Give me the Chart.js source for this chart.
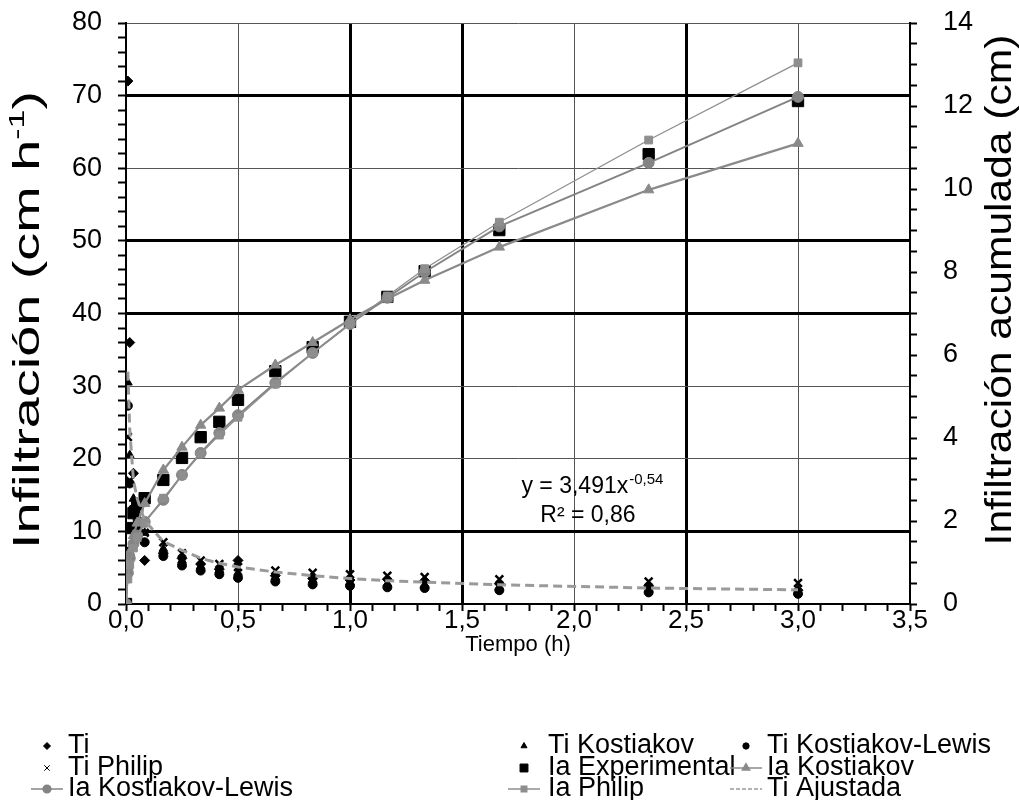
<!DOCTYPE html>
<html>
<head>
<meta charset="utf-8">
<title>Infiltración</title>
<script src="https://cdn.jsdelivr.net/npm/chart.js@4.4.1/dist/chart.umd.min.js"></script>
<style>
  html, body { margin: 0; padding: 0; background: #fff; }
  canvas { display: block; }
</style>
</head>
<body>
<canvas id="grafico" width="1019" height="800"></canvas>
<script>
// Tiempo (h) de cada lectura
const tiempo = [0, 0.0083, 0.0167, 0.0333, 0.05, 0.0833, 0.1667, 0.25, 0.3333, 0.4167, 0.5,
                0.6667, 0.8333, 1, 1.1667, 1.3333, 1.6667, 2.3333, 3];

// Infiltración instantánea (cm h-1), eje izquierdo
const tiExp        = [null, 72, 36, 18, 14, 6, 7.0, 6.3, 5.5, 4.8, 6.0, 3.9, 3.5, 3.3, 3.4, 3.2, 2.8, 2.5, 1.9];
const tiKostiakov  = [null, 30.5, 20.5, 14.5, 12, 9.8, 7.6, 6.0, 5.2, 4.7, 4.3, 3.7, 3.3, 3.0, 2.8, 2.6, 2.3, 2.0, 1.7];
const tiKostLewis  = [null, 27.3, 16.6, 12.5, 10.5, 8.5, 6.6, 5.3, 4.6, 4.1, 3.6, 3.1, 2.7, 2.5, 2.3, 2.2, 1.9, 1.6, 1.4];
const tiPhilip     = [null, 23, 17, 13, 11, 9.8, 8.5, 7.0, 6.0, 5.5, 5.1, 4.6, 4.3, 4.1, 3.9, 3.7, 3.4, 3.1, 2.9];
const tiAjustada   = [null, 32, 24, 17, 14.5, 11.5, 8.6, 7.4, 6.3, 5.6, 5.1, 4.4, 3.9, 3.5, 3.2, 3.0, 2.65, 2.2, 1.95];

// Infiltración acumulada (cm), eje derecho
const iaExp        = [0, 1.23, 1.83, 2.19, 2.34, 2.55, 2.99, 3.52, 4.02, 4.39, 4.92, 5.61, 6.19, 6.80, 7.40, 8.02, 9.01, 10.84, 12.12];
const iaKostiakov  = [0, 0.9, 1.25, 1.65, 1.95, 2.42, 3.23, 3.78, 4.31, 4.72, 5.16, 5.76, 6.3, 6.85, 7.35, 7.8, 8.6, 9.98, 11.1];
const iaKostLewis  = [0, 0.75, 1.1, 1.45, 1.65, 1.98, 2.51, 3.11, 3.64, 4.12, 4.55, 5.33, 6.05, 6.75, 7.38, 8.0, 9.1, 10.63, 12.22];
const iaPhilip     = [0, 0.6, 0.95, 1.35, 1.6, 1.95, 2.55, 3.1, 3.62, 4.07, 4.5, 5.3, 6.05, 6.75, 7.42, 8.08, 9.2, 11.18, 13.04];

// Marcas principales de los ejes
const xTicks  = [0, 0.5, 1, 1.5, 2, 2.5, 3, 3.5];
const yTicks  = [0, 10, 20, 30, 40, 50, 60, 70, 80];
const y1Ticks = [0, 2, 4, 6, 8, 10, 12, 14];

// lineas de rejilla que salen mas gruesas en la figura original
const xGruesas = [1, 1.5, 2.5];
const yGruesas = [10, 40, 50, 70];

const FUENTE = '"Liberation Sans", Arial, sans-serif';
Chart.defaults.font.family = FUENTE;
Chart.defaults.color = '#000';

function puntos(valores) {
    return tiempo.map(function(t, i) {
        return { x: t, y: valores[i] };
    }).filter(function(p) { return p.y !== null; });
}

function esMayor(v, lista) {
    return lista.some(function(m) { return Math.abs(m - v) < 1e-6; });
}

function ticksMenores(mayores, paso) {
    const inicio = mayores[0];
    const n = Math.round((mayores[mayores.length - 1] - inicio) / paso);
    const out = [];
    for (let k = 0; k <= n; k++) {
        out.push({ value: +(inicio + k * paso).toFixed(4) });
    }
    return out;
}

// ancho fijo del eje y sin relleno extra arriba/abajo
function fijarAncho(ancho) {
    return function(s) {
        s.width = ancho;
        s.paddingTop = 0;
        s.paddingBottom = 0;
    };
}

function serieTi(label, data, estilo, radio) {
    return {
        label: label, data: puntos(data), yAxisID: 'y', showLine: false,
        pointStyle: estilo, pointRadius: radio, pointBorderWidth: estilo === 'crossRot' ? 2.5 : 1,
        borderColor: '#000', backgroundColor: '#000'
    };
}

function serieIa(label, data, estilo, radio, ancho, color) {
    return {
        label: label, data: puntos(data), yAxisID: 'y1', showLine: true, tension: 0,
        pointStyle: estilo, pointRadius: radio, pointBorderWidth: 1,
        borderColor: color, backgroundColor: color, borderWidth: ancho
    };
}

const datasets = [
    serieTi('Ti', tiExp, 'rectRot', 5),
    serieTi('Ti Kostiakov', tiKostiakov, 'triangle', 5),
    serieTi('Ti Kostiakov-Lewis', tiKostLewis, 'circle', 4.5),
    serieTi('Ti Philip', tiPhilip, 'crossRot', 5.5),
    {
        label: 'Ia Experimental', data: puntos(iaExp), yAxisID: 'y1', showLine: false,
        pointStyle: 'rect', pointRadius: 8, borderColor: '#000', backgroundColor: '#000'
    },
    serieIa('Ia Kostiakov', iaKostiakov, 'triangle', 6, 2.2, '#8a8a8a'),
    serieIa('Ia Kostiakov-Lewis', iaKostLewis, 'circle', 5.5, 2, '#848484'),
    serieIa('Ia Philip', iaPhilip, 'rect', 5.5, 1.3, '#8e8e8e'),
    {
        label: 'Ti Ajustada', data: puntos(tiAjustada), yAxisID: 'y', showLine: true, tension: 0,
        pointRadius: 0, borderColor: '#9a9a9a', borderWidth: 3, borderDash: [9, 5]
    }
];
// como en Excel: la ultima serie queda encima
datasets.forEach(function(ds, i) { ds.order = datasets.length - i; });

// Leyenda en tres columnas bajo el grafico
const legCentro = [47, 524, 746];
const legTexto = [68, 548, 767];
const legFilas = [746, 768, 789];

const leyenda = {
    id: 'leyenda',
    afterDraw: function(chart) {
        const ctx = chart.ctx;
        ctx.save();
        chart.data.datasets.forEach(function(ds, i) {
            const col = i % 3, fila = Math.floor(i / 3);
            const cx = legCentro[col], cy = legFilas[fila];
            ctx.strokeStyle = ds.borderColor;
            ctx.fillStyle = ds.backgroundColor || ds.borderColor;
            if (ds.showLine) {
                ctx.lineWidth = 1.5;
                ctx.setLineDash(ds.borderDash ? [4, 2] : []);
                ctx.beginPath();
                ctx.moveTo(cx - 16, cy);
                ctx.lineTo(cx + 16, cy);
                ctx.stroke();
                ctx.setLineDash([]);
            }
            if (ds.pointRadius > 0) {
                Chart.helpers.drawPoint(ctx, {
                    pointStyle: ds.pointStyle, rotation: 0,
                    radius: ds.pointRadius * 0.7, borderWidth: ds.pointBorderWidth || 1
                }, cx, cy);
            }
            ctx.fillStyle = '#000';
            ctx.font = '27px ' + FUENTE;
            ctx.textBaseline = 'middle';
            ctx.textAlign = 'left';
            ctx.fillText(ds.label, legTexto[col], cy);
        });
        ctx.restore();
    }
};

// texto rotado y estirado a lo largo (asi sale en la figura original)
function textoVertical(ctx, x, y, partes, estirar) {
    ctx.save();
    ctx.translate(x, y);
    ctx.rotate(-Math.PI / 2);
    ctx.scale(estirar, 1);
    let total = 0;
    partes.forEach(function(p) { ctx.font = p.font; total += ctx.measureText(p.t).width; });
    let x0 = -total / 2;
    partes.forEach(function(p) {
        ctx.font = p.font;
        ctx.fillText(p.t, x0, p.dy || 0);
        x0 += ctx.measureText(p.t).width;
    });
    ctx.restore();
}

// Titulos de los ejes y ecuacion de ajuste
const textos = {
    id: 'textos',
    afterDraw: function(chart) {
        const ctx = chart.ctx;
        ctx.save();
        ctx.fillStyle = '#000';
        ctx.textBaseline = 'middle';
        ctx.textAlign = 'left';

        const grande = '36px ' + FUENTE, chico = '22px ' + FUENTE;
        textoVertical(ctx, 29, 320, [
            { t: 'Infiltración (cm h', font: grande },
            { t: '-1', font: chico, dy: -11 },
            { t: ')', font: grande }
        ], 1.55);

        textoVertical(ctx, 1001, 290, [
            { t: 'Infiltración acumulada (cm)', font: '37px ' + FUENTE }
        ], 1.15);

        // ecuacion
        const sx = chart.scales.x, sy = chart.scales.y;
        const cx = sx.getPixelForValue(2.08);
        ctx.font = '23px ' + FUENTE;
        const e1 = 'y = 3,491x', sup = '-0,54';
        const w1 = ctx.measureText(e1).width;
        ctx.font = '15px ' + FUENTE;
        const w2 = ctx.measureText(sup).width;
        const xi = cx - (w1 + w2) / 2;
        const ya = sy.getPixelForValue(16.1);
        ctx.font = '23px ' + FUENTE;
        ctx.fillText(e1, xi, ya);
        ctx.font = '15px ' + FUENTE;
        ctx.fillText(sup, xi + w1 + 1, ya - 7);
        ctx.font = '23px ' + FUENTE;
        ctx.textAlign = 'center';
        ctx.fillText('R² = 0,86', cx - 4, sy.getPixelForValue(12.1));
        ctx.restore();
    }
};

const grafico = new Chart(document.getElementById('grafico'), {
    type: 'scatter',
    data: { datasets: datasets },
    options: {
        responsive: false,
        animation: false,
        layout: { padding: { left: 0, right: 0, top: 23, bottom: 138 } },
        plugins: {
            legend: { display: false },
            tooltip: { enabled: false }
        },
        scales: {
            x: {
                type: 'linear', position: 'bottom', min: 0, max: 3.5,
                afterBuildTicks: function(s) { s.ticks = ticksMenores(xTicks, 0.1); },
                afterFit: function(s) {
                    s.height = 58;
                    s.paddingLeft = 0;
                    s.paddingRight = 0;
                },
                ticks: {
                    autoSkip: false, maxRotation: 0, font: { size: 26 }, padding: -6,
                    callback: function(v) {
                        return esMayor(v, xTicks) ? v.toFixed(1).replace('.', ',') : '';
                    }
                },
                grid: {
                    color: function(c) {
                        if (!c.tick || !esMayor(c.tick.value, xTicks)) return 'rgba(0,0,0,0)';
                        return esMayor(c.tick.value, xGruesas) ? '#000' : '#555';
                    },
                    lineWidth: function(c) {
                        return c.tick && esMayor(c.tick.value, xGruesas) ? 3 : 1;
                    },
                    tickColor: '#000', tickLength: 7, tickWidth: 2
                },
                border: { color: '#000', width: 2 },
                title: { display: true, text: 'Tiempo (h)', font: { size: 22 }, padding: { top: 0, bottom: 4 } }
            },
            y: {
                type: 'linear', position: 'left', min: 0, max: 80,
                afterBuildTicks: function(s) { s.ticks = ticksMenores(yTicks, 2); },
                afterFit: fijarAncho(126),
                ticks: {
                    autoSkip: false, font: { size: 27 }, padding: 16,
                    callback: function(v) { return esMayor(v, yTicks) ? String(v) : ''; }
                },
                grid: {
                    color: function(c) {
                        if (!c.tick || !esMayor(c.tick.value, yTicks)) return 'rgba(0,0,0,0)';
                        return esMayor(c.tick.value, yGruesas) ? '#000' : '#555';
                    },
                    lineWidth: function(c) {
                        return c.tick && esMayor(c.tick.value, yGruesas) ? 3 : 1;
                    },
                    tickColor: '#000', tickLength: 8, tickWidth: 2
                },
                border: { color: '#000', width: 2 }
            },
            y1: {
                type: 'linear', position: 'right', min: 0, max: 14,
                afterBuildTicks: function(s) { s.ticks = ticksMenores(y1Ticks, 0.5); },
                afterFit: fijarAncho(109),
                ticks: {
                    autoSkip: false, font: { size: 27 }, padding: 26,
                    callback: function(v) { return esMayor(v, y1Ticks) ? String(v) : ''; }
                },
                grid: { drawOnChartArea: false, color: '#000', tickColor: '#000', tickLength: 7, tickWidth: 2 },
                border: { color: '#000', width: 2 }
            }
        }
    },
    plugins: [leyenda, textos]
});
</script>
</body>
</html>
